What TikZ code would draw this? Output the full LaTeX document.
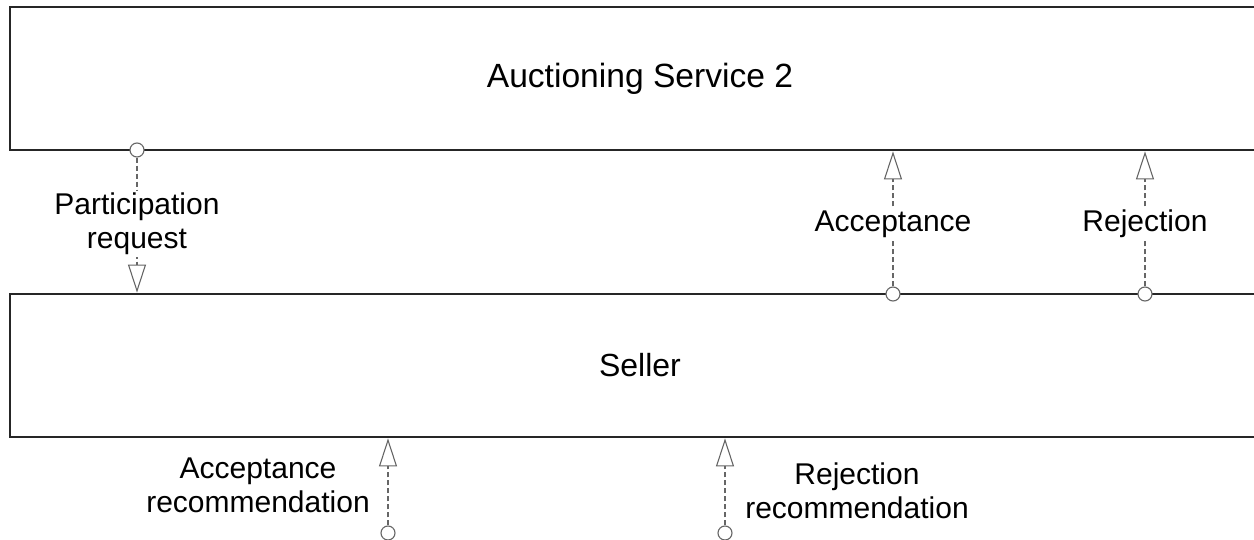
\documentclass[tikz,border=0pt]{standalone}
\usepackage{fontspec}
\setmainfont{Liberation Sans}
\usetikzlibrary{arrows.meta}
\begin{document}
\begin{tikzpicture}[x=0.5pt,y=-0.5pt,
  box/.style={draw=black!85, line width=1.4pt, rectangle, inner sep=0pt,
    minimum width=630pt, minimum height=71.5pt},
  port/.style={circle, draw=black!60, fill=white, line width=0.55pt,
    minimum size=7pt, inner sep=0pt},
  flow/.style={draw=black!60, line width=0.55pt, dash pattern=on 2.5pt off 1.5pt,
    -{Triangle[open, length=14pt, width=9pt, line width=0.55pt]}},
  lbl/.style={fill=white, inner sep=1pt, align=center,
    font=\fontsize{15}{17}\selectfont, text=black}
]
\useasboundingbox (0,0) rectangle (1254,540);
\clip (0,0) rectangle (1254,540);

\node[box, font=\fontsize{16.8}{20}\selectfont] (as) at (640,78.5) {Auctioning Service 2};
\node[box, font=\fontsize{16}{20}\selectfont] (sel) at (640,365.5) {Seller};

% Participation request
\node[port] (p1) at (137,150) {};
\draw[flow] (p1) -- (p1 |- sel.north);
\node[lbl] (l1) at (137,224) {Participation\\request};

% Acceptance
\node[port] (p2) at (893,294) {};
\draw[flow] (p2) -- (p2 |- as.south);
\node[lbl] (l2) at (893,224) {Acceptance};

% Rejection
\node[port] (p3) at (1145,294) {};
\draw[flow] (p3) -- (p3 |- as.south);
\node[lbl] (l3) at (1145,224) {Rejection};

% Acceptance recommendation
\node[port] (p4) at (388,533) {};
\draw[flow] (p4) -- (p4 |- sel.south);
\node[lbl] (l4) at (258,485) {Acceptance\\recommendation};

% Rejection recommendation
\node[port] (p5) at (725,533) {};
\draw[flow] (p5) -- (p5 |- sel.south);
\node[lbl] (l5) at (857,491) {Rejection\\recommendation};
\end{tikzpicture}
\end{document}
